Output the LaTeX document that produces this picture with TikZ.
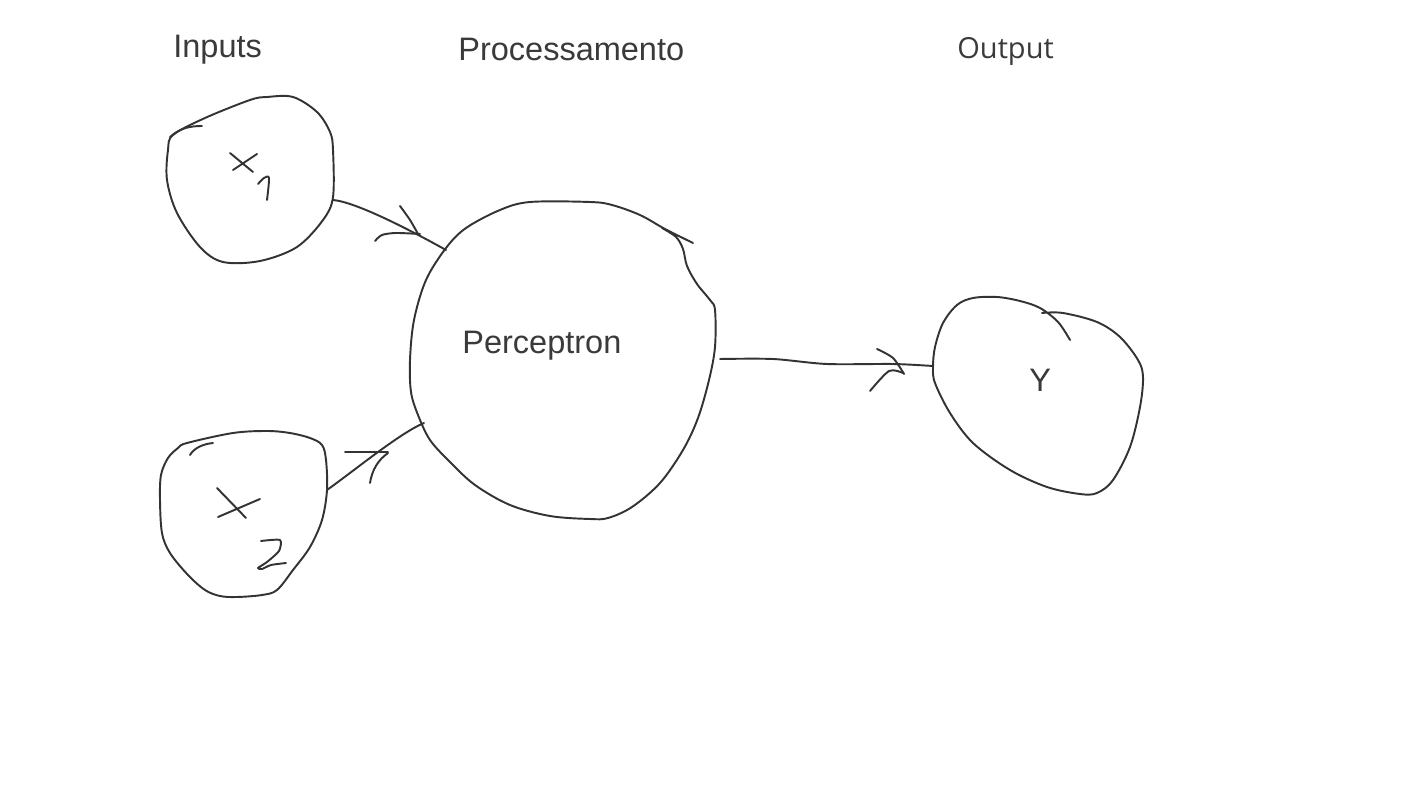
\documentclass[tikz,border=0pt]{standalone}
\usepackage{fontspec}
\setmainfont{Liberation Sans}
\newfontfamily\outfont{Open Sans}
\definecolor{ink}{HTML}{333333}
\definecolor{txt}{HTML}{3A3A3A}
\begin{document}
\begin{tikzpicture}[x=0.02cm,y=-0.02cm,
  ink/.style={draw=ink,line width=1.1pt,line cap=round,line join=round},
  lbl/.style={text=txt,inner sep=0,anchor=base west,font=\fontsize{18.5}{20}\selectfont}]
\useasboundingbox (0,0) rectangle (1422,800);
% titles
\node[lbl] (tin) at (173,57.5) {Inputs};
\node[lbl] (tproc) at (458,60.5) {Processamento};
\node[lbl,font=\outfont\fontsize{16.5}{18}\selectfont] (tout) at (957,58.3) {Output};
% blob x1
\draw[ink] plot[smooth cycle,tension=0.55] coordinates {(173,135) (205,118) (250,100) (267,97) (293,97) (317,112) (330,132) (333,150) (333,197) (323,220) (297,247) (260,261) (223,262) (200,247) (177,213) (167,180) (168,150)};
\draw[ink] (170,137) .. controls (180,128) and (190,126) .. (202,126);
\draw[ink] (230,153) -- (253,172) (233,170) -- (257,154);
\draw[ink] plot[smooth,tension=0.5] coordinates {(258,184) (264,178) (269,178) (267,200)};
% blob x2
\draw[ink] plot[smooth cycle,tension=0.55] coordinates {(187,443) (233,433) (267,431) (290,433) (310,438) (322,445) (326,460) (327,490) (322,520) (310,547) (293,570) (277,590) (262,595) (237,597) (220,596) (205,590) (188,575) (170,553) (162,533) (160,500) (161,475) (168,458) (178,448)};
\draw[ink] (190,455) .. controls (194,448) and (203,444) .. (213,443);
\draw[ink] (217,488) -- (246,518) (218,517) -- (260,499);
\draw[ink] plot[smooth,tension=0.4] coordinates {(261,541) (280,540) (279,551) (267,562) (258,568) (262,569) (271,565) (286,563)};
% Perceptron blob
\draw[ink] plot[smooth,tension=0.55] coordinates {(693,243) (665,229) (640,215) (612,205) (590,202) (530,202) (500,210) (466,228) (446,248) (426,280) (414,320) (410,360) (411,392) (418,415) (430,440) (450,462) (475,485) (510,505) (550,516) (590,519) (608,518) (632,507) (660,483) (683,450) (698,418) (709,380) (715,347) (715,310) (710,300) (697,284) (687,266) (683,249) (676,237) (662,228)};
\node[lbl] (perc) at (462,353) {Perceptron};
% Y blob
\draw[ink] plot[smooth,tension=0.55] coordinates {(1042,313) (1063,313) (1097,322) (1120,337) (1138,360) (1143,377) (1140,407) (1130,447) (1113,480) (1097,493) (1080,494) (1047,487) (1010,470) (973,443) (950,413) (935,383) (933,367) (935,347) (943,323) (957,305) (973,298) (997,297) (1020,301) (1040,308) (1058,322) (1070,340)};
\node[lbl] (ynode) at (1029,391) {Y};
% connector endpoints
\coordinate (x1o) at (333,200);
\coordinate (p1) at (446,250);
\coordinate (x2o) at (327,490);
\coordinate (p2) at (424,423);
\coordinate (po) at (720,359);
\coordinate (yi) at (933,366);
% connectors
\draw[ink] (x1o) .. controls (356,202) and (410,230) .. (p1);
\draw[ink] plot[smooth,tension=0.5] coordinates {(400,206) (410,220) (418,234)};
\draw[ink] plot[smooth,tension=0.5] coordinates {(375,241) (382,235) (396,233) (420,234)};
\draw[ink] (x2o) .. controls (355,470) and (400,433) .. (p2);
\draw[ink] (345,452) -- (388,452);
\draw[ink] (370,483) .. controls (372,470) and (378,460) .. (388,453);
\draw[ink] plot[smooth,tension=0.5] coordinates {(po) (773,359) (827,364) (893,364) (yi)};
\draw[ink] plot[smooth,tension=0.5] coordinates {(877,349) (893,358) (904,374)};
\draw[ink] plot[smooth,tension=0.5] coordinates {(870,391) (889,371) (903,373)};
\end{tikzpicture}
\end{document}
